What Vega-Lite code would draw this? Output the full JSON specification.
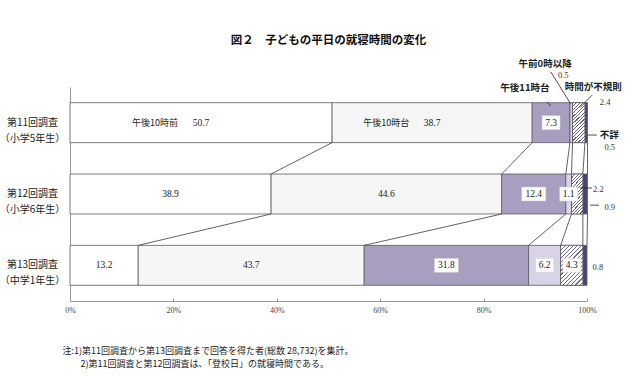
{
  "$schema": "https://vega.github.io/schema/vega-lite/v6.json",
  "width": 517,
  "height": 214,
  "autosize": "none",
  "padding": {"left": 70, "top": 87, "right": 53, "bottom": 75},
  "background": "#ffffff",
  "config": {"view": {"stroke": null}, "text": {"font": "Noto Sans CJK JP"}},
  "title": {"text": "図２　子どもの平日の就寝時間の変化", "font": "Noto Sans CJK JP", "fontSize": 11.5, "fontWeight": "bold", "color": "#111", "offset": 13, "anchor": "middle"},
  "data": {"values": [
    {"r": 1, "row": "第11回調査|（小学5年生）", "k": 1, "cat": "午後10時前", "v": 50.7},
    {"r": 1, "row": "第11回調査|（小学5年生）", "k": 2, "cat": "午後10時台", "v": 38.7},
    {"r": 1, "row": "第11回調査|（小学5年生）", "k": 3, "cat": "午後11時台", "v": 7.3},
    {"r": 1, "row": "第11回調査|（小学5年生）", "k": 4, "cat": "午前0時以降", "v": 0.5},
    {"r": 1, "row": "第11回調査|（小学5年生）", "k": 5, "cat": "時間が不規則", "v": 2.4},
    {"r": 1, "row": "第11回調査|（小学5年生）", "k": 6, "cat": "不詳", "v": 0.5},
    {"r": 2, "row": "第12回調査|（小学6年生）", "k": 1, "cat": "午後10時前", "v": 38.9},
    {"r": 2, "row": "第12回調査|（小学6年生）", "k": 2, "cat": "午後10時台", "v": 44.6},
    {"r": 2, "row": "第12回調査|（小学6年生）", "k": 3, "cat": "午後11時台", "v": 12.4},
    {"r": 2, "row": "第12回調査|（小学6年生）", "k": 4, "cat": "午前0時以降", "v": 1.1},
    {"r": 2, "row": "第12回調査|（小学6年生）", "k": 5, "cat": "時間が不規則", "v": 2.2},
    {"r": 2, "row": "第12回調査|（小学6年生）", "k": 6, "cat": "不詳", "v": 0.9},
    {"r": 3, "row": "第13回調査|（中学1年生）", "k": 1, "cat": "午後10時前", "v": 13.2},
    {"r": 3, "row": "第13回調査|（中学1年生）", "k": 2, "cat": "午後10時台", "v": 43.7},
    {"r": 3, "row": "第13回調査|（中学1年生）", "k": 3, "cat": "午後11時台", "v": 31.8},
    {"r": 3, "row": "第13回調査|（中学1年生）", "k": 4, "cat": "午前0時以降", "v": 6.2},
    {"r": 3, "row": "第13回調査|（中学1年生）", "k": 5, "cat": "時間が不規則", "v": 4.3},
    {"r": 3, "row": "第13回調査|（中学1年生）", "k": 6, "cat": "不詳", "v": 0.8}
  ]},
  "layer": [
    {
      "transform": [{"stack": "v", "groupby": ["row"], "sort": [{"field": "k"}], "as": ["x0", "x1"]}],
      "mark": {"type": "bar", "stroke": "#5a5a5a", "strokeWidth": 0.8},
      "encoding": {
        "x": {"field": "x0", "type": "quantitative", "scale": {"domain": [0, 100], "nice": false, "zero": true},
          "axis": {"values": [0, 20, 40, 60, 80, 100], "labelExpr": "datum.value + '%'", "labelFlush": false, "grid": false, "domainColor": "#999", "tickColor": "#999", "tickSize": -3, "labelFont": "Liberation Serif", "labelFontSize": 8, "labelColor": "#444", "labelPadding": 8,
            "title": ["注:1)第11回調査から第13回調査まで回答を得た者(総数 28,732)を集計。", "\u200b　　2)第11回調査と第12回調査は、「登校日」の就寝時間である。"],
            "titleAnchor": "start", "titleAlign": "left", "titleX": -8, "titleY": 45, "titleBaseline": "top", "titleFont": "Noto Sans CJK JP", "titleFontSize": 9, "titleFontWeight": "normal", "titleLineHeight": 13, "titleColor": "#222"}},
        "x2": {"field": "x1"},
        "y": {"field": "row", "type": "nominal", "sort": ["第11回調査|（小学5年生）", "第12回調査|（小学6年生）", "第13回調査|（中学1年生）"],
          "scale": {"paddingInner": 0.44, "paddingOuter": 0.22},
          "axis": {"title": null, "labelExpr": "split(datum.value, '|')", "ticks": false, "tickSize": 0, "domainColor": "#999", "labelAlign": "center", "labelBaseline": "middle", "labelPadding": 38, "labelFont": "Noto Sans CJK JP", "labelFontSize": 10, "labelLineHeight": 16, "labelColor": "#1a1a1a"}},
        "color": {"field": "cat", "type": "nominal", "legend": null,
          "scale": {"domain": ["午後10時前", "午後10時台", "午後11時台", "午前0時以降", "時間が不規則", "不詳"],
            "range": ["#ffffff", "#f6f6f6", "#a89ec0", "#d9d3e8", "#e2deea", "#4e4275"]}}
      }
    },
    {
      "transform": [{"stack": "v", "groupby": ["row"], "sort": [{"field": "k"}], "as": ["x0", "x1"]}, {"filter": "datum.k == 5 && datum.r <= 2"}],
      "mark": {"type": "bar", "stroke": "#5a5a5a", "strokeWidth": 0.8,
        "fill": {"gradient": "linear", "x1": 0, "y1": 0, "x2": 0.354, "y2": 1.18, "stops": [
          {"offset": 0, "color": "#6e6688"}, {"offset": 0.022, "color": "#6e6688"}, {"offset": 0.022, "color": "#ffffff"}, {"offset": 0.0667, "color": "#ffffff"},
          {"offset": 0.0667, "color": "#6e6688"}, {"offset": 0.0887, "color": "#6e6688"}, {"offset": 0.0887, "color": "#ffffff"}, {"offset": 0.1333, "color": "#ffffff"},
          {"offset": 0.1333, "color": "#6e6688"}, {"offset": 0.1553, "color": "#6e6688"}, {"offset": 0.1553, "color": "#ffffff"}, {"offset": 0.2, "color": "#ffffff"},
          {"offset": 0.2, "color": "#6e6688"}, {"offset": 0.222, "color": "#6e6688"}, {"offset": 0.222, "color": "#ffffff"}, {"offset": 0.2667, "color": "#ffffff"},
          {"offset": 0.2667, "color": "#6e6688"}, {"offset": 0.2887, "color": "#6e6688"}, {"offset": 0.2887, "color": "#ffffff"}, {"offset": 0.3333, "color": "#ffffff"},
          {"offset": 0.3333, "color": "#6e6688"}, {"offset": 0.3553, "color": "#6e6688"}, {"offset": 0.3553, "color": "#ffffff"}, {"offset": 0.4, "color": "#ffffff"},
          {"offset": 0.4, "color": "#6e6688"}, {"offset": 0.422, "color": "#6e6688"}, {"offset": 0.422, "color": "#ffffff"}, {"offset": 0.4667, "color": "#ffffff"},
          {"offset": 0.4667, "color": "#6e6688"}, {"offset": 0.4887, "color": "#6e6688"}, {"offset": 0.4887, "color": "#ffffff"}, {"offset": 0.5333, "color": "#ffffff"},
          {"offset": 0.5333, "color": "#6e6688"}, {"offset": 0.5553, "color": "#6e6688"}, {"offset": 0.5553, "color": "#ffffff"}, {"offset": 0.6, "color": "#ffffff"},
          {"offset": 0.6, "color": "#6e6688"}, {"offset": 0.622, "color": "#6e6688"}, {"offset": 0.622, "color": "#ffffff"}, {"offset": 0.6667, "color": "#ffffff"},
          {"offset": 0.6667, "color": "#6e6688"}, {"offset": 0.6887, "color": "#6e6688"}, {"offset": 0.6887, "color": "#ffffff"}, {"offset": 0.7333, "color": "#ffffff"},
          {"offset": 0.7333, "color": "#6e6688"}, {"offset": 0.7553, "color": "#6e6688"}, {"offset": 0.7553, "color": "#ffffff"}, {"offset": 0.8, "color": "#ffffff"},
          {"offset": 0.8, "color": "#6e6688"}, {"offset": 0.822, "color": "#6e6688"}, {"offset": 0.822, "color": "#ffffff"}, {"offset": 0.8667, "color": "#ffffff"},
          {"offset": 0.8667, "color": "#6e6688"}, {"offset": 0.8887, "color": "#6e6688"}, {"offset": 0.8887, "color": "#ffffff"}, {"offset": 0.9333, "color": "#ffffff"},
          {"offset": 0.9333, "color": "#6e6688"}, {"offset": 0.9553, "color": "#6e6688"}, {"offset": 0.9553, "color": "#ffffff"}, {"offset": 1, "color": "#ffffff"}
        ]}},
      "encoding": {
        "x": {"field": "x0", "type": "quantitative"},
        "x2": {"field": "x1"},
        "y": {"field": "row", "type": "nominal", "sort": ["第11回調査|（小学5年生）", "第12回調査|（小学6年生）", "第13回調査|（中学1年生）"]}
      }
    },
    {
      "transform": [{"stack": "v", "groupby": ["row"], "sort": [{"field": "k"}], "as": ["x0", "x1"]}, {"filter": "datum.k == 5 && datum.r == 3"}],
      "mark": {"type": "bar", "stroke": "#5a5a5a", "strokeWidth": 0.8,
        "fill": {"gradient": "linear", "x1": 0, "y1": 0, "x2": 0.66, "y2": 1.189, "stops": [
          {"offset": 0, "color": "#6e6688"}, {"offset": 0.02, "color": "#6e6688"}, {"offset": 0.02, "color": "#ffffff"}, {"offset": 0.0667, "color": "#ffffff"},
          {"offset": 0.0667, "color": "#6e6688"}, {"offset": 0.0867, "color": "#6e6688"}, {"offset": 0.0867, "color": "#ffffff"}, {"offset": 0.1333, "color": "#ffffff"},
          {"offset": 0.1333, "color": "#6e6688"}, {"offset": 0.1533, "color": "#6e6688"}, {"offset": 0.1533, "color": "#ffffff"}, {"offset": 0.2, "color": "#ffffff"},
          {"offset": 0.2, "color": "#6e6688"}, {"offset": 0.22, "color": "#6e6688"}, {"offset": 0.22, "color": "#ffffff"}, {"offset": 0.2667, "color": "#ffffff"},
          {"offset": 0.2667, "color": "#6e6688"}, {"offset": 0.2867, "color": "#6e6688"}, {"offset": 0.2867, "color": "#ffffff"}, {"offset": 0.3333, "color": "#ffffff"},
          {"offset": 0.3333, "color": "#6e6688"}, {"offset": 0.3533, "color": "#6e6688"}, {"offset": 0.3533, "color": "#ffffff"}, {"offset": 0.4, "color": "#ffffff"},
          {"offset": 0.4, "color": "#6e6688"}, {"offset": 0.42, "color": "#6e6688"}, {"offset": 0.42, "color": "#ffffff"}, {"offset": 0.4667, "color": "#ffffff"},
          {"offset": 0.4667, "color": "#6e6688"}, {"offset": 0.4867, "color": "#6e6688"}, {"offset": 0.4867, "color": "#ffffff"}, {"offset": 0.5333, "color": "#ffffff"},
          {"offset": 0.5333, "color": "#6e6688"}, {"offset": 0.5533, "color": "#6e6688"}, {"offset": 0.5533, "color": "#ffffff"}, {"offset": 0.6, "color": "#ffffff"},
          {"offset": 0.6, "color": "#6e6688"}, {"offset": 0.62, "color": "#6e6688"}, {"offset": 0.62, "color": "#ffffff"}, {"offset": 0.6667, "color": "#ffffff"},
          {"offset": 0.6667, "color": "#6e6688"}, {"offset": 0.6867, "color": "#6e6688"}, {"offset": 0.6867, "color": "#ffffff"}, {"offset": 0.7333, "color": "#ffffff"},
          {"offset": 0.7333, "color": "#6e6688"}, {"offset": 0.7533, "color": "#6e6688"}, {"offset": 0.7533, "color": "#ffffff"}, {"offset": 0.8, "color": "#ffffff"},
          {"offset": 0.8, "color": "#6e6688"}, {"offset": 0.82, "color": "#6e6688"}, {"offset": 0.82, "color": "#ffffff"}, {"offset": 0.8667, "color": "#ffffff"},
          {"offset": 0.8667, "color": "#6e6688"}, {"offset": 0.8867, "color": "#6e6688"}, {"offset": 0.8867, "color": "#ffffff"}, {"offset": 0.9333, "color": "#ffffff"},
          {"offset": 0.9333, "color": "#6e6688"}, {"offset": 0.9533, "color": "#6e6688"}, {"offset": 0.9533, "color": "#ffffff"}, {"offset": 1, "color": "#ffffff"}
        ]}},
      "encoding": {
        "x": {"field": "x0", "type": "quantitative"},
        "x2": {"field": "x1"},
        "y": {"field": "row", "type": "nominal", "sort": ["第11回調査|（小学5年生）", "第12回調査|（小学6年生）", "第13回調査|（中学1年生）"]}
      }
    },
    {
      "transform": [
        {"stack": "v", "groupby": ["row"], "sort": [{"field": "k"}], "as": ["x0", "x1"]},
        {"window": [{"op": "lead", "field": "x1", "as": "nx"}, {"op": "lead", "field": "row", "as": "nrow"}], "groupby": ["k"], "sort": [{"field": "r"}]},
        {"filter": "datum.nrow != null"}
      ],
      "mark": {"type": "rule", "color": "#3a3a3a", "strokeWidth": 0.8},
      "encoding": {
        "x": {"field": "x1", "type": "quantitative"},
        "x2": {"field": "nx"},
        "y": {"field": "row", "type": "nominal", "bandPosition": 1, "sort": ["第11回調査|（小学5年生）", "第12回調査|（小学6年生）", "第13回調査|（中学1年生）"]},
        "y2": {"field": "nrow", "bandPosition": 0}
      }
    },
    {
      "mark": {"type": "point", "filled": true, "fill": "#ffffff", "stroke": "#cccccc", "strokeWidth": 0.5},
      "encoding": {
        "x": {"field": "v", "type": "quantitative", "stack": "zero", "bandPosition": 0.5},
        "y": {"field": "row", "type": "nominal", "sort": ["第11回調査|（小学5年生）", "第12回調査|（小学6年生）", "第13回調査|（中学1年生）"]},
        "order": {"field": "k"},
        "shape": {"condition": {"test": "datum.v >= 10", "value": "M-1,-0.58H1V0.58H-1Z"}, "value": "M-1,-0.78H1V0.78H-1Z"},
        "size": {"condition": {"test": "datum.v >= 10", "value": 576}, "value": 324},
        "opacity": {"condition": {"test": "datum.k >= 3 && ((datum.v >= 1 && datum.k <= 4) || datum.v >= 4)", "value": 1}, "value": 0}
      }
    },
    {
      "mark": {"type": "text", "font": "Liberation Serif", "fontSize": 9.5, "color": "#222", "align": "center", "baseline": "middle"},
      "encoding": {
        "x": {"field": "v", "type": "quantitative", "stack": "zero", "bandPosition": 0.5},
        "y": {"field": "row", "type": "nominal", "sort": ["第11回調査|（小学5年生）", "第12回調査|（小学6年生）", "第13回調査|（中学1年生）"]},
        "order": {"field": "k"},
        "text": {"condition": {"test": "(datum.v >= 1 && datum.k <= 4) || datum.v >= 4", "field": "v", "format": ".1f"}, "value": ""}
      }
    },
    {
      "mark": {"type": "text", "fontSize": 9, "color": "#222", "align": "center", "baseline": "middle", "dx": -46},
      "encoding": {
        "x": {"field": "v", "type": "quantitative", "stack": "zero", "bandPosition": 0.5},
        "y": {"field": "row", "type": "nominal", "sort": ["第11回調査|（小学5年生）", "第12回調査|（小学6年生）", "第13回調査|（中学1年生）"]},
        "order": {"field": "k"},
        "text": {"condition": {"test": "datum.r == 1 && datum.k <= 2", "field": "cat"}, "value": ""}
      }
    },
    {
      "transform": [{"filter": "datum.r == 1 && datum.k == 3"}],
      "mark": {"type": "text", "fontSize": 9.5, "fontWeight": "bold", "color": "#222", "align": "center", "baseline": "middle"},
      "encoding": {"x": {"datum": 88.0, "type": "quantitative"}, "y": {"field": "row", "type": "nominal", "bandPosition": -0.37, "sort": ["第11回調査|（小学5年生）", "第12回調査|（小学6年生）", "第13回調査|（中学1年生）"]}, "text": {"field": "cat"}}
    },
    {
      "transform": [{"filter": "datum.r == 1 && datum.k == 4"}],
      "mark": {"type": "text", "fontSize": 9.5, "fontWeight": "bold", "color": "#222", "align": "center", "baseline": "middle", "dy": -11},
      "encoding": {"x": {"datum": 91.9, "type": "quantitative"}, "y": {"field": "row", "type": "nominal", "bandPosition": -0.69, "sort": ["第11回調査|（小学5年生）", "第12回調査|（小学6年生）", "第13回調査|（中学1年生）"]}, "text": {"field": "cat"}}
    },
    {
      "transform": [{"filter": "datum.r == 1 && datum.k == 5"}],
      "mark": {"type": "text", "fontSize": 9.5, "fontWeight": "bold", "color": "#222", "align": "center", "baseline": "middle"},
      "encoding": {"x": {"datum": 101.2, "type": "quantitative"}, "y": {"field": "row", "type": "nominal", "bandPosition": -0.39, "sort": ["第11回調査|（小学5年生）", "第12回調査|（小学6年生）", "第13回調査|（中学1年生）"]}, "text": {"field": "cat"}}
    },
    {
      "transform": [{"filter": "datum.r == 1 && datum.k == 6"}],
      "mark": {"type": "text", "fontSize": 9.5, "fontWeight": "bold", "color": "#222", "align": "center", "baseline": "middle"},
      "encoding": {"x": {"datum": 104.3, "type": "quantitative"}, "y": {"field": "row", "type": "nominal", "bandPosition": 0.81, "sort": ["第11回調査|（小学5年生）", "第12回調査|（小学6年生）", "第13回調査|（中学1年生）"]}, "text": {"field": "cat"}}
    },
    {
      "transform": [{"filter": "datum.r == 1 && datum.k == 4"}],
      "mark": {"type": "text", "font": "Liberation Serif", "fontSize": 8.5, "color": "#333", "align": "center", "baseline": "middle"},
      "encoding": {"x": {"datum": 95.4, "type": "quantitative"}, "y": {"field": "row", "type": "nominal", "bandPosition": -0.69, "sort": ["第11回調査|（小学5年生）", "第12回調査|（小学6年生）", "第13回調査|（中学1年生）"]}, "text": {"field": "v", "format": ".1f"}}
    },
    {
      "transform": [{"filter": "datum.r == 1 && datum.k == 5"}],
      "mark": {"type": "text", "font": "Liberation Serif", "fontSize": 8.5, "color": "#333", "align": "center", "baseline": "middle"},
      "encoding": {"x": {"datum": 103.5, "type": "quantitative"}, "y": {"field": "row", "type": "nominal", "bandPosition": -0.02, "sort": ["第11回調査|（小学5年生）", "第12回調査|（小学6年生）", "第13回調査|（中学1年生）"]}, "text": {"field": "v", "format": ".1f"}}
    },
    {
      "transform": [{"filter": "datum.r == 1 && datum.k == 6"}],
      "mark": {"type": "text", "font": "Liberation Serif", "fontSize": 8.5, "color": "#333", "align": "center", "baseline": "middle"},
      "encoding": {"x": {"datum": 104.4, "type": "quantitative"}, "y": {"field": "row", "type": "nominal", "bandPosition": 1.11, "sort": ["第11回調査|（小学5年生）", "第12回調査|（小学6年生）", "第13回調査|（中学1年生）"]}, "text": {"field": "v", "format": ".1f"}}
    },
    {
      "transform": [{"filter": "datum.r == 2 && datum.k == 5"}],
      "mark": {"type": "text", "font": "Liberation Serif", "fontSize": 8.5, "color": "#333", "align": "center", "baseline": "middle"},
      "encoding": {"x": {"datum": 102.2, "type": "quantitative"}, "y": {"field": "row", "type": "nominal", "bandPosition": 0.375, "sort": ["第11回調査|（小学5年生）", "第12回調査|（小学6年生）", "第13回調査|（中学1年生）"]}, "text": {"field": "v", "format": ".1f"}}
    },
    {
      "transform": [{"filter": "datum.r == 2 && datum.k == 6"}],
      "mark": {"type": "text", "font": "Liberation Serif", "fontSize": 8.5, "color": "#333", "align": "center", "baseline": "middle"},
      "encoding": {"x": {"datum": 104.4, "type": "quantitative"}, "y": {"field": "row", "type": "nominal", "bandPosition": 0.83, "sort": ["第11回調査|（小学5年生）", "第12回調査|（小学6年生）", "第13回調査|（中学1年生）"]}, "text": {"field": "v", "format": ".1f"}}
    },
    {
      "transform": [{"filter": "datum.r == 3 && datum.k == 6"}],
      "mark": {"type": "text", "font": "Liberation Serif", "fontSize": 8.5, "color": "#333", "align": "center", "baseline": "middle"},
      "encoding": {"x": {"datum": 102.1, "type": "quantitative"}, "y": {"field": "row", "type": "nominal", "bandPosition": 0.54, "sort": ["第11回調査|（小学5年生）", "第12回調査|（小学6年生）", "第13回調査|（中学1年生）"]}, "text": {"field": "v", "format": ".1f"}}
    },
    {
      "transform": [{"filter": "datum.r == 1 && datum.k == 3"}],
      "mark": {"type": "rule", "color": "#222", "strokeWidth": 0.8},
      "encoding": {"x": {"datum": 92.2, "type": "quantitative"}, "x2": {"datum": 93.0}, "y": {"field": "row", "type": "nominal", "bandPosition": -0.02, "sort": ["第11回調査|（小学5年生）", "第12回調査|（小学6年生）", "第13回調査|（中学1年生）"]}, "y2": {"field": "row", "bandPosition": 0.08}}
    },
    {
      "transform": [{"filter": "datum.r == 1 && datum.k == 4"}],
      "mark": {"type": "rule", "color": "#222", "strokeWidth": 0.8},
      "encoding": {"x": {"datum": 93.0, "type": "quantitative"}, "x2": {"datum": 96.8}, "y": {"field": "row", "type": "nominal", "bandPosition": -0.77, "sort": ["第11回調査|（小学5年生）", "第12回調査|（小学6年生）", "第13回調査|（中学1年生）"]}, "y2": {"field": "row", "bandPosition": 0.02}}
    },
    {
      "transform": [{"filter": "datum.r == 1 && datum.k == 5"}],
      "mark": {"type": "rule", "color": "#222", "strokeWidth": 0.8},
      "encoding": {"x": {"datum": 101.0, "type": "quantitative"}, "x2": {"datum": 98.6}, "y": {"field": "row", "type": "nominal", "bandPosition": -0.19, "sort": ["第11回調査|（小学5年生）", "第12回調査|（小学6年生）", "第13回調査|（中学1年生）"]}, "y2": {"field": "row", "bandPosition": 0.13}}
    },
    {
      "transform": [{"filter": "datum.r == 1 && datum.k == 6"}],
      "mark": {"type": "rule", "color": "#222", "strokeWidth": 0.8},
      "encoding": {"x": {"datum": 100.2, "type": "quantitative"}, "x2": {"datum": 101.9}, "y": {"field": "row", "type": "nominal", "bandPosition": 0.81, "sort": ["第11回調査|（小学5年生）", "第12回調査|（小学6年生）", "第13回調査|（中学1年生）"]}, "y2": {"field": "row", "bandPosition": 0.81}}
    },
    {
      "transform": [{"filter": "datum.r == 2 && datum.k == 5"}],
      "mark": {"type": "rule", "color": "#222", "strokeWidth": 0.8},
      "encoding": {"x": {"datum": 98.6, "type": "quantitative"}, "x2": {"datum": 101.0}, "y": {"field": "row", "type": "nominal", "bandPosition": 0.35, "sort": ["第11回調査|（小学5年生）", "第12回調査|（小学6年生）", "第13回調査|（中学1年生）"]}, "y2": {"field": "row", "bandPosition": 0.35}}
    },
    {
      "transform": [{"filter": "datum.r == 2 && datum.k == 6"}],
      "mark": {"type": "rule", "color": "#222", "strokeWidth": 0.8},
      "encoding": {"x": {"datum": 100.6, "type": "quantitative"}, "x2": {"datum": 102.3}, "y": {"field": "row", "type": "nominal", "bandPosition": 0.78, "sort": ["第11回調査|（小学5年生）", "第12回調査|（小学6年生）", "第13回調査|（中学1年生）"]}, "y2": {"field": "row", "bandPosition": 0.78}}
    }
  ]
}
